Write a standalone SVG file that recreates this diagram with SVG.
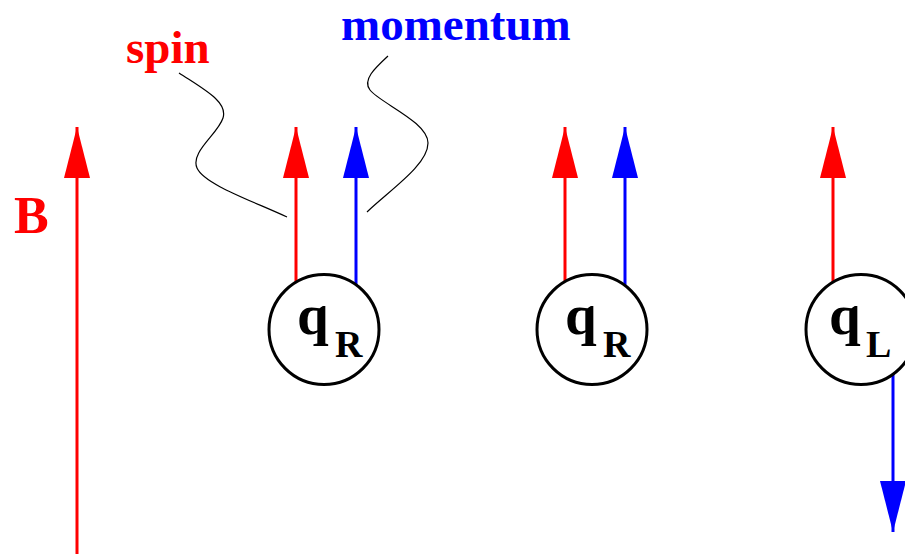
<svg xmlns="http://www.w3.org/2000/svg" width="905" height="554" viewBox="0 0 905 554">
<style>
.lbl{font-family:"Liberation Serif","Times New Roman",serif;font-weight:bold}
.red{fill:#ff0000}
.blue{fill:#0000ff}
.node circle{fill:#fff;stroke:#000;stroke-width:3}
.q{font-size:57px;fill:#000}
.sub{font-size:38px;fill:#000}
.ar{stroke:#ff0000;stroke-width:3;fill:none}
.ab{stroke:#0000ff;stroke-width:3;fill:none}
.lead{stroke:#000;stroke-width:1.2;fill:none}
</style>
<defs>
<marker id="hr" markerUnits="userSpaceOnUse" markerWidth="52" markerHeight="26" refX="51" refY="13" orient="auto" viewBox="0 0 52 26">
<path d="M0,0 L51,13 L0,26 z" fill="#ff0000"/>
</marker>
<marker id="hb" markerUnits="userSpaceOnUse" markerWidth="52" markerHeight="26" refX="51" refY="13" orient="auto" viewBox="0 0 52 26">
<path d="M0,0 L51,13 L0,26 z" fill="#0000ff"/>
</marker>
</defs>
<rect width="905" height="554" fill="#fff"/>
<g id="connectors">
<line class="ar" x1="77" y1="554" x2="77" y2="127" marker-end="url(#hr)"/>
<line class="ar" x1="296" y1="285" x2="296" y2="127" marker-end="url(#hr)"/>
<line class="ab" x1="356" y1="285" x2="356" y2="127" marker-end="url(#hb)"/>
<line class="ar" x1="565" y1="285" x2="565" y2="127" marker-end="url(#hr)"/>
<line class="ab" x1="625" y1="285" x2="625" y2="127" marker-end="url(#hb)"/>
<line class="ar" x1="833" y1="285" x2="833" y2="127" marker-end="url(#hr)"/>
<line class="ab" x1="893" y1="374" x2="893" y2="532" marker-end="url(#hb)"/>
<path class="lead" d="M179,73 C205,90 228,102 223,118 C218,134 190,152 197,168 C204,184 250,200 287,217"/>
<path class="lead" d="M388,56 C375,68 362,80 370,90 C380,103 428,122 428,143 C428,165 390,190 367,212"/>
</g>
<g id="labels">
<text class="lbl red" x="14" y="233" font-size="52">B</text>
<text class="lbl red" x="126" y="63" font-size="47">spin</text>
<text class="lbl blue" x="341" y="40" font-size="47">momentum</text>
</g>
<g id="node1" class="node">
<circle cx="324" cy="329.5" r="55"/>
<text class="lbl q" x="297" y="334">q</text>
<text class="lbl sub" x="335" y="357">R</text>
</g>
<g id="node2" class="node">
<circle cx="592" cy="329.5" r="55"/>
<text class="lbl q" x="565" y="334">q</text>
<text class="lbl sub" x="603" y="357">R</text>
</g>
<g id="node3" class="node">
<circle cx="861" cy="329.5" r="55"/>
<text class="lbl q" x="829" y="334">q</text>
<text class="lbl sub" x="866" y="357">L</text>
</g>
</svg>
